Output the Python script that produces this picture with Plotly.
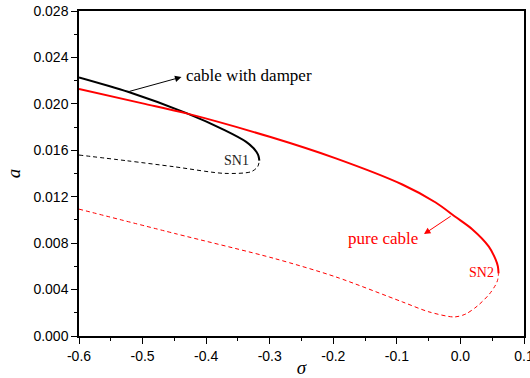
import plotly.graph_objects as go

# ---- data ----
damper_stable_x = [-0.6, -0.523, -0.431, -0.371, -0.337, -0.3258, -0.3207, -0.3176, -0.3163]
damper_stable_y = [0.02228, 0.02104, 0.0192, 0.01774, 0.01673, 0.0162, 0.01585, 0.0155, 0.0151]

damper_unstable_x = [-0.6, -0.525, -0.45, -0.371, -0.3294, -0.319, -0.3163]
damper_unstable_y = [0.01559, 0.0151, 0.01458, 0.01401, 0.01415, 0.01458, 0.0151]

pure_stable_x = [-0.6, -0.5, -0.431, -0.3, -0.196, -0.0914, -0.0389, -0.0075, 0.0185, 0.0447, 0.0553, 0.0589, 0.0600]
pure_stable_y = [0.02128, 0.02004, 0.01918, 0.01716, 0.0153, 0.01305, 0.0115, 0.01025, 0.0092, 0.0077, 0.0066, 0.0060, 0.0054]

pure_unstable_x = [-0.6, -0.45, -0.2928, -0.196, -0.0914, -0.0495, -0.0095, 0.0085, 0.027, 0.0454, 0.0553, 0.0584, 0.0600]
pure_unstable_y = [0.01093, 0.00884, 0.00668, 0.00509, 0.00294, 0.00208, 0.00164, 0.0019, 0.0026, 0.0036, 0.0044, 0.0048, 0.0054]

x_ticks = [-0.6, -0.5, -0.4, -0.3, -0.2, -0.1, 0.0, 0.1]
y_ticks = [0.000, 0.004, 0.008, 0.012, 0.016, 0.020, 0.024, 0.028]

fig = go.Figure()
fig.add_trace(go.Scatter(x=damper_stable_x, y=damper_stable_y, mode="lines",
                         line=dict(color="black", width=2, shape="spline", smoothing=0.8), showlegend=False))
fig.add_trace(go.Scatter(x=damper_unstable_x, y=damper_unstable_y, mode="lines",
                         line=dict(color="black", width=1, shape="spline", smoothing=0.8, dash="4px,3px"), showlegend=False))
fig.add_trace(go.Scatter(x=pure_stable_x, y=pure_stable_y, mode="lines",
                         line=dict(color="#ff0000", width=2, shape="spline", smoothing=0.8), showlegend=False))
fig.add_trace(go.Scatter(x=pure_unstable_x, y=pure_unstable_y, mode="lines",
                         line=dict(color="#ff0000", width=1, shape="spline", smoothing=0.8, dash="4px,3px"), showlegend=False))

serif = "Liberation Serif, Times New Roman, serif"
sans = "Liberation Sans, Arial, sans-serif"

# arrows
fig.add_annotation(x=-0.4388, y=0.02231, ax=-0.523, ay=0.02104, axref="x", ayref="y",
                   xref="x", yref="y", text="", showarrow=True, arrowhead=2, arrowsize=1.3,
                   arrowwidth=1, arrowcolor="black", standoff=0, startstandoff=0)
fig.add_annotation(x=-0.0573, y=0.00878, ax=-0.0129, ay=0.01041, axref="x", ayref="y",
                   xref="x", yref="y", text="", showarrow=True, arrowhead=2, arrowsize=1.3,
                   arrowwidth=1, arrowcolor="#ff0000", standoff=0, startstandoff=0)
# labels
fig.add_annotation(x=-0.4356, y=0.02248, text="cable with damper", showarrow=False,
                   xanchor="left", yanchor="middle", font=dict(family=serif, size=17, color="black"))
fig.add_annotation(x=-0.0640, y=0.00843, text="pure cable", showarrow=False,
                   xanchor="right", yanchor="middle", font=dict(family=serif, size=17, color="#ff0000"))
fig.add_annotation(x=-0.3749, y=0.0151, text="SN1", showarrow=False,
                   xanchor="left", yanchor="middle", font=dict(family=serif, size=14, color="#222222"))
fig.add_annotation(x=0.0107, y=0.00547, text="SN2", showarrow=False,
                   xanchor="left", yanchor="middle", font=dict(family=serif, size=14, color="#ff0000"))

fig.update_layout(
    width=530, height=378,
    margin=dict(l=79, r=6, t=11, b=42),
    plot_bgcolor="white", paper_bgcolor="white",
    font=dict(family=sans, size=14, color="black"),
)
fig.update_xaxes(range=[-0.6, 0.100001], tickvals=x_ticks, ticktext=[f"{v:.1f}" for v in x_ticks],
                 automargin=False, ticklabeloverflow="allow",
                 showgrid=False, zeroline=False, showline=True, linecolor="black", linewidth=1.5,
                 mirror=True, ticks="outside", ticklen=6, tickwidth=1, tickcolor="black",
                 minor=dict(dtick=0.05, tick0=0, ticks="outside", ticklen=3, tickcolor="black"),
                 tickfont=dict(family=sans, size=14),
                 title=dict(text="<i>σ</i>", font=dict(family=serif, size=19), standoff=0))
fig.update_yaxes(range=[0, 0.028], tickvals=y_ticks, ticktext=[f"{v:.3f}" for v in y_ticks],
                 automargin=False, ticklabeloverflow="allow",
                 showgrid=False, zeroline=False, showline=True, linecolor="black", linewidth=1.5,
                 mirror=True, ticks="outside", ticklen=6, tickwidth=1, tickcolor="black",
                 minor=dict(dtick=0.002, tick0=0, ticks="outside", ticklen=3, tickcolor="black"),
                 tickfont=dict(family=sans, size=14),
                 title=dict(text="<i>a</i>", font=dict(family=serif, size=19), standoff=8))

fig.write_html("out.html")
